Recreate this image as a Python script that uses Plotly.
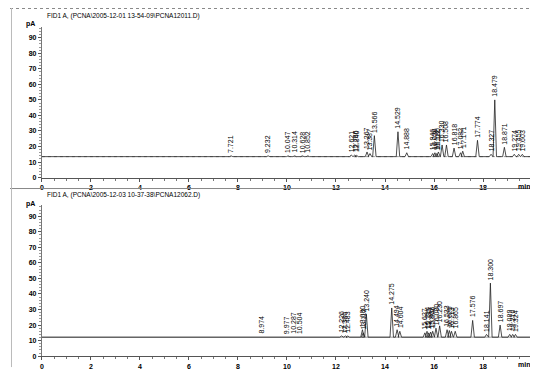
import plotly.graph_objects as go
from plotly.subplots import make_subplots

# ---- data ----
titles = ["FID1 A, (PCNA\\2005-12-01 13-54-09\\PCNA12011.D)",
          "FID1 A, (PCNA\\2005-12-03 10-37-38\\PCNA12062.D)"]

top_rt = [7.721, 9.232, 10.047, 10.314, 10.628, 10.852, 12.621, 12.766, 12.840,
          13.267, 13.387, 13.566, 14.529, 14.888, 15.946, 16.036, 16.112, 16.180,
          16.330, 16.508, 16.818, 17.082, 17.171, 17.774, 18.327, 18.479, 18.871,
          19.274, 19.455, 19.603]
top_h = [14.0, 14.0, 14.0, 14.0, 14.0, 14.0, 14.5, 14.5, 14.3,
         16.5, 15.5, 27.0, 29.5, 16.0, 15.5, 16.0, 15.5, 16.5,
         21.0, 21.0, 19.0, 16.0, 17.0, 24.0, 15.0, 50.0, 19.5,
         15.0, 15.0, 15.0]
top_base = 13.5

bot_rt = [8.974, 9.977, 10.287, 10.504, 12.226, 12.386, 12.483, 13.080, 13.112,
          13.240, 14.275, 14.494, 14.604, 15.627, 15.714, 15.785, 15.862, 15.946,
          16.080, 16.230, 16.533, 16.625, 16.713, 16.865, 17.576, 18.141, 18.300,
          18.697, 19.089, 19.210, 19.324]
bot_h = [12.5, 12.5, 12.5, 12.5, 13.0, 13.0, 13.0, 17.0, 15.0,
         27.0, 31.0, 17.0, 16.0, 15.0, 16.0, 15.0, 15.5, 16.0,
         18.0, 19.5, 17.0, 16.5, 16.0, 16.0, 23.0, 14.0, 47.0,
         20.0, 14.0, 14.0, 14.0]
bot_base = 12.2

y_ticks = [0, 10, 20, 30, 40, 50, 60, 70, 80, 90]
x_ticks = [0, 2, 4, 6, 8, 10, 12, 14, 16, 18, 20]
x_ticktext = ["0", "2", "4", "6", "8", "10", "12", "14", "16", "18", ""]
x_unit = "min"

X_MAX = 20.0
Y_MAX = 97.0
HALF_W = 0.07

fig = make_subplots(rows=2, cols=1, vertical_spacing=0.05)

FONT = "Liberation Sans"


def signal(rts, hs, base):
    xs, ys = [0.0], [base]
    for rt, h in zip(rts, hs):
        xs += [rt - HALF_W, rt, rt + HALF_W]
        ys += [base, h, base]
    xs.append(X_MAX)
    ys.append(base)
    return xs, ys


panels = [(top_rt, top_h, top_base, "dot"), (bot_rt, bot_h, bot_base, "solid")]
for row, (rts, hs, base, dash) in enumerate(panels, start=1):
    fig.add_trace(go.Scatter(x=[0, X_MAX], y=[base, base], mode="lines",
                             line=dict(color="#9a9a9a", width=1, dash=dash),
                             hoverinfo="skip", showlegend=False), row=row, col=1)
    xs, ys = signal(rts, hs, base)
    fig.add_trace(go.Scatter(x=xs, y=ys, mode="lines",
                             line=dict(color="#222222", width=0.8),
                             hoverinfo="skip", showlegend=False), row=row, col=1)
    xref = "x" if row == 1 else "x2"
    yref = "y" if row == 1 else "y2"
    for rt, h in zip(rts, hs):
        fig.add_annotation(x=rt, y=h, xref=xref, yref=yref, text=f"{rt:.3f}",
                           textangle=-90, showarrow=False, yanchor="bottom",
                           xanchor="center", yshift=1,
                           font=dict(family=FONT, size=7, color="black"))
    fig.add_annotation(x=X_MAX, y=0, xref=xref, yref=yref, text=x_unit,
                       showarrow=False, xanchor="right", yanchor="top", yshift=-3,
                       font=dict(family=FONT, size=7, color="black", weight="bold"))

# layout: pixel-derived domains
W, H = 538, 370
xdom = [32 / W, 524 / W]
fig.update_xaxes(domain=xdom, range=[0, X_MAX], tickvals=x_ticks, ticktext=x_ticktext,
                 showgrid=False, zeroline=False, showline=True, linecolor="#555555",
                 linewidth=1, ticks="outside", ticklen=3, tickcolor="#555555",
                 tickfont=dict(family=FONT, size=7, color="black", weight="bold"),
                 minor=dict(dtick=0.5, ticks="outside", ticklen=2, tickcolor="#777777"))
fig.update_yaxes(range=[0, Y_MAX], tickvals=y_ticks, showgrid=False, zeroline=False,
                 showline=True, linecolor="#777777", linewidth=1, ticks="outside",
                 ticklen=3, tickcolor="#555555",
                 tickfont=dict(family=FONT, size=7, color="black", weight="bold"),
                 minor=dict(dtick=2, ticks="outside", ticklen=1.5, tickcolor="#999999"))
fig.update_layout(
    yaxis=dict(domain=[(H - 171) / H, (H - 19) / H]),
    yaxis2=dict(domain=[(H - 351) / H, (H - 199) / H]),
    width=W, height=H, margin=dict(l=0, r=0, t=0, b=0),
    plot_bgcolor="white", paper_bgcolor="white", showlegend=False,
)

# titles and unit labels
for yp, title in [(8, titles[0]), (189, titles[1])]:
    fig.add_annotation(x=35 / W, y=(H - yp) / H, xref="paper", yref="paper", text=title,
                       showarrow=False, xanchor="left", yanchor="middle",
                       font=dict(family=FONT, size=6.5, color="black"))
for yp in [16, 198]:
    fig.add_annotation(x=27 / W, y=(H - yp) / H, xref="paper", yref="paper", text="pA",
                       showarrow=False, xanchor="right", yanchor="middle",
                       font=dict(family=FONT, size=7, color="black", weight="bold"))

# frame lines
fig.add_shape(type="line", xref="paper", yref="paper", x0=0, x1=1, y0=(H - 0.5) / H,
              y1=(H - 0.5) / H, line=dict(color="#888888", width=1, dash="dot"))
fig.add_shape(type="line", xref="paper", yref="paper", x0=0, x1=1, y0=(H - 182) / H,
              y1=(H - 182) / H, line=dict(color="#888888", width=1))
fig.add_shape(type="line", xref="paper", yref="paper", x0=1.5 / W, x1=1.5 / W, y0=(H - 362) / H,
              y1=1, line=dict(color="#bbbbbb", width=1))

fig.write_html("out.html")
